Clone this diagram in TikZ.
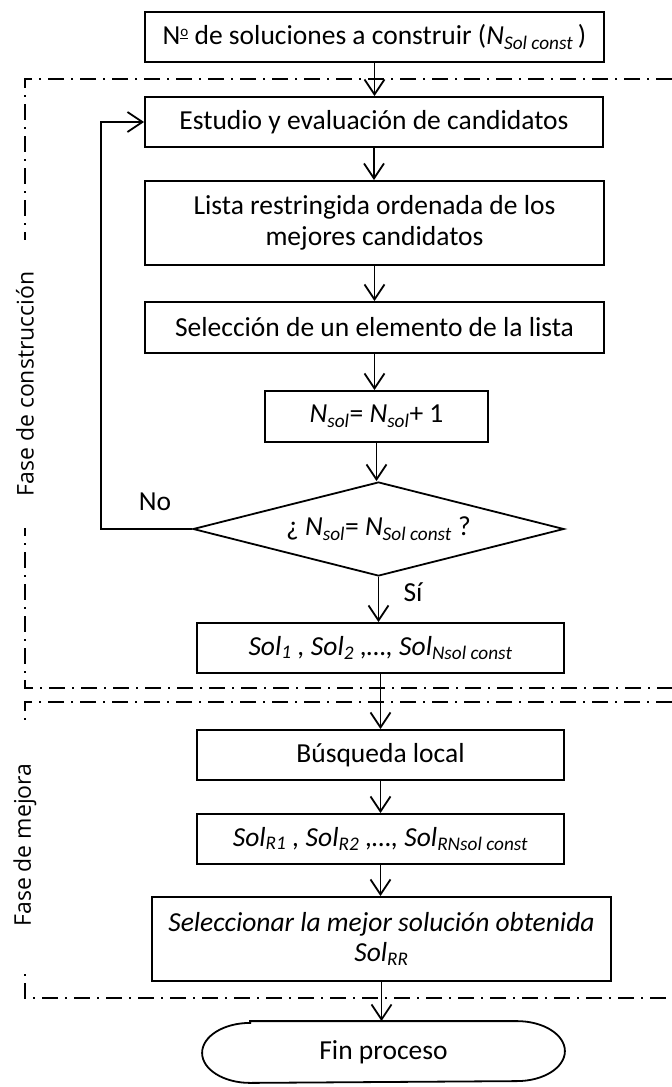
\documentclass[tikz,border=0pt]{standalone}
\usepackage{fontspec}
\setmainfont{Carlito}
\newfontfamily\sidefont{Open Sans}
\usetikzlibrary{arrows.meta,shapes.geometric}
\newcommand{\mysub}[1]{\textsubscript{\itshape #1}}
\newcommand{\numero}{N\raisebox{0.62ex}{\fontsize{15}{15}\selectfont\underline{o}}}
\begin{document}
\begin{tikzpicture}[x=1pt,y=-1pt,
  box/.style={draw, line width=1.8pt, fill=white, inner sep=0pt, align=center,
    font=\fontsize{27.5}{31}\selectfont},
  arr/.style={line width=1.8pt, -{Straight Barb[length=15pt,width=20pt]}},
  region/.style={line width=1.4pt, dash pattern=on 16pt off 7pt on 2pt off 7pt},
  side/.style={fill=white, rotate=90, inner xsep=0pt, inner ysep=2pt,
    font=\sidefont\fontsize{23}{26}\selectfont},
  lbl/.style={font=\fontsize{27.5}{31}\selectfont, inner sep=0pt}]
\useasboundingbox (0,0) rectangle (672,1087);
% phase regions
\draw[region] (672,79) -- (25,79) -- (25,688) -- (672,688);
\draw[region] (672,702) -- (25,702) -- (25,998) -- (672,998);
\node[side, minimum width=288pt] (s1) at (25,384) {Fase de construcción};
\node[side, minimum width=245pt] (s2) at (25,845) {Fase de mejora};
% boxes
\node[box, minimum width=459pt, minimum height=50pt] (n1) at (374.5,37)
  {\numero{} de soluciones a construir (\textit{N}\mysub{Sol const}\,)};
\node[box, minimum width=458pt, minimum height=50pt] (n2) at (374,122)
  {Estudio y evaluación de candidatos};
\node[box, minimum width=459pt, minimum height=84pt] (n3) at (374.5,223)
  {Lista restringida ordenada de los\\ mejores candidatos};
\node[box, minimum width=459pt, minimum height=51pt] (n4) at (374.5,327.5)
  {Selección de un elemento de la lista};
\node[box, minimum width=223pt, minimum height=51pt] (n5) at (376.5,416.5)
  {\textit{N}\mysub{sol}= \textit{N}\mysub{sol}+ 1};
\node[box, diamond, aspect=3.95, minimum width=371pt, minimum height=94pt] (dia) at (378.5,529)
  {¿ \textit{N}\mysub{sol}= \textit{N}\mysub{Sol const} ?};
\node[box, minimum width=367pt, minimum height=50pt] (n6) at (380.5,648)
  {\itshape Sol\mysub{1} , Sol\mysub{2} ,…, Sol\mysub{Nsol const}};
\node[box, minimum width=367pt, minimum height=50pt] (n7) at (380.5,755)
  {Búsqueda local};
\node[box, minimum width=367pt, minimum height=50pt] (n8) at (380.5,839)
  {\itshape Sol\mysub{R1} , Sol\mysub{R2} ,…, Sol\mysub{RNsol const}};
\node[box, minimum width=459pt, minimum height=84pt,
  font=\fontsize{27.5}{30}\selectfont\itshape] (n9) at (381.5,939)
  {Seleccionar la mejor solución obtenida\\ Sol\mysub{RR}};
\node[box, draw=none, fill=none, minimum width=361pt, minimum height=60pt] (n10) at (383.5,1052)
  {Fin proceso};
\draw[line width=1.8pt] ([xshift=48pt]n10.north west) -- ([xshift=-48pt]n10.north east)
  arc[start angle=90, end angle=-90, x radius=48pt, y radius=30pt]
  -- ([xshift=48pt]n10.south west)
  arc[start angle=270, end angle=90, x radius=48pt, y radius=30pt] -- cycle;
% connectors
\draw[arr] (n1.south) -- (n1.south |- n2.north);
\draw[arr] (n2.south) -- (n2.south |- n3.north);
\draw[arr] (n3.south) -- (n3.south |- n4.north);
\draw[arr] (n4.south) -- (n4.south |- n5.north);
\draw[arr] (n5.south) -- (n5.south |- dia.north);
\draw[arr] (dia.south) -- (dia.south |- n6.north);
\draw[arr] (n6.south) -- (n6.south |- n7.north);
\draw[arr] (n7.south) -- (n7.south |- n8.north);
\draw[arr] (n8.south) -- (n8.south |- n9.north);
\draw[arr] (n9.south) -- (n9.south |- n10.north);
\coordinate (lp) at (101,0);
\draw[arr] (dia.west) -- (lp |- dia.west) -- (lp |- n2.west) -- (n2.west);
\node[lbl] (no) at (155,502) {No};
\node[lbl] (si) at (413,592) {Sí};
\end{tikzpicture}
\end{document}
